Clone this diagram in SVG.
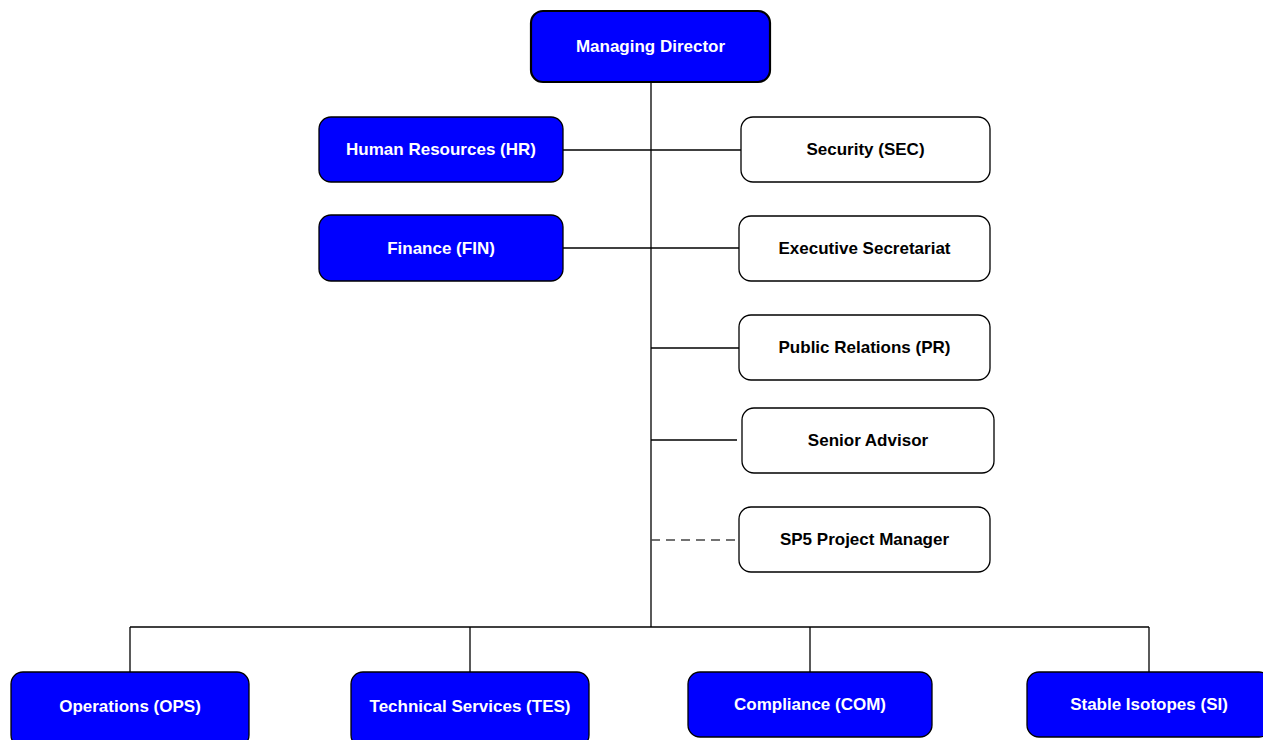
<svg xmlns="http://www.w3.org/2000/svg" width="1263" height="740" viewBox="0 0 1263 740">
<style>
.blue rect{fill:#0000FF;stroke:#000;stroke-width:1.3}
.white rect{fill:#fff;stroke:#000;stroke-width:1.3}
text{font-family:"Liberation Sans",Arial,sans-serif;font-weight:bold;font-size:17px;text-anchor:middle}
.blue text{fill:#fff}
.white text{fill:#000}
#connectors line{stroke:#000;stroke-width:1.3}
#connectors .dash{stroke:#444;stroke-dasharray:9,6}
</style>
<rect width="1263" height="740" fill="#fff"/>
<g id="connectors">
<line x1="651" y1="82" x2="651" y2="627"/>
<line x1="563" y1="150" x2="741" y2="150"/>
<line x1="563" y1="248" x2="739" y2="248"/>
<line x1="651" y1="348" x2="739" y2="348"/>
<line x1="651" y1="440" x2="737" y2="440"/>
<line class="dash" x1="651" y1="540" x2="739" y2="540"/>
<line x1="130" y1="627" x2="1149" y2="627"/>
<line x1="130" y1="627" x2="130" y2="672"/>
<line x1="470" y1="627" x2="470" y2="672"/>
<line x1="810" y1="627" x2="810" y2="672"/>
<line x1="1149" y1="627" x2="1149" y2="672"/>
</g>
<g id="md" class="blue"><rect x="531" y="11" width="239" height="71" rx="12" style="stroke-width:2.2"/><text x="650.5" y="52">Managing Director</text></g>
<g id="hr" class="blue"><rect x="319" y="117" width="244" height="65" rx="12"/><text x="441" y="155">Human Resources (HR)</text></g>
<g id="fin" class="blue"><rect x="319" y="215" width="244" height="66" rx="12"/><text x="441" y="254">Finance (FIN)</text></g>
<g id="sec" class="white"><rect x="741" y="117" width="249" height="65" rx="12"/><text x="865.5" y="155">Security (SEC)</text></g>
<g id="es" class="white"><rect x="739" y="216" width="251" height="65" rx="12"/><text x="864.5" y="254">Executive Secretariat</text></g>
<g id="pr" class="white"><rect x="739" y="315" width="251" height="65" rx="12"/><text x="864.5" y="353">Public Relations (PR)</text></g>
<g id="sa" class="white"><rect x="742" y="408" width="252" height="65" rx="12"/><text x="868" y="446">Senior Advisor</text></g>
<g id="sp5" class="white"><rect x="739" y="507" width="251" height="65" rx="12"/><text x="864.5" y="545">SP5 Project Manager</text></g>
<g id="ops" class="blue"><rect x="11" y="672" width="238" height="75" rx="12"/><text x="130" y="712">Operations (OPS)</text></g>
<g id="tes" class="blue"><rect x="351" y="672" width="238" height="75" rx="12"/><text x="470" y="712">Technical Services (TES)</text></g>
<g id="com" class="blue"><rect x="688" y="672" width="244" height="65" rx="12"/><text x="810" y="710">Compliance (COM)</text></g>
<g id="si" class="blue"><rect x="1027" y="672" width="244" height="65" rx="12"/><text x="1149" y="710">Stable Isotopes (SI)</text></g>
</svg>
